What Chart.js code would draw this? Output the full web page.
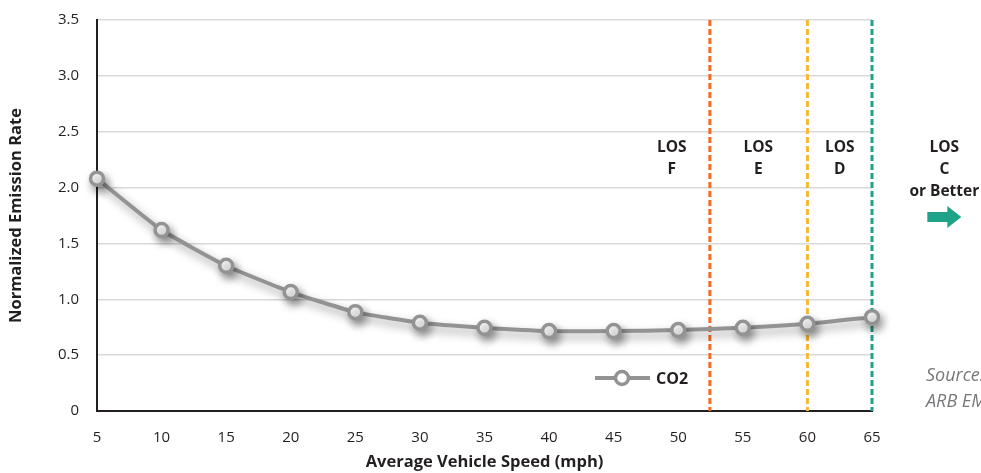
<!DOCTYPE html>
<html>
<head>
<meta charset="utf-8">
<script src="https://cdn.jsdelivr.net/npm/chart.js@4/dist/chart.umd.min.js"></script>
<style>
  html, body { margin: 0; padding: 0; background: #ffffff; }
  #wrap { width: 981px; height: 473px; }
</style>
</head>
<body>
<div id="wrap"><canvas id="emissionChart"></canvas></div>
<script>
// speeds (mph) and CO2 normalized emission rate
const speeds = [5, 10, 15, 20, 25, 30, 35, 40, 45, 50, 55, 60, 65];
const co2Rate = [2.08, 1.62, 1.30, 1.065, 0.885, 0.79, 0.745, 0.715, 0.715, 0.725, 0.745, 0.78, 0.84];

// level of service boundaries
const losBounds = [52.45, 60, 65];
const losColors = ['#f26b21', '#f6b933', '#1fa388'];
// zone labels and the speed they sit over
const losLabels = [['LOS', 'F'], ['LOS', 'E'], ['LOS', 'D'], ['LOS', 'C', 'or Better']];
const losLabelAt = [49.5, 56.2, 62.5, 70.6];

const sourceLines = ['Source: California', 'ARB EMFAC 2014'];

const FONT = "'Open Sans', 'Noto Sans', sans-serif";
const INK = '#231f20';

const losPlugin = {
  id: 'losPlugin',
  beforeDatasetsDraw(chart) {
    const { ctx, chartArea, scales } = chart;
    ctx.save();
    ctx.lineWidth = 3;
    ctx.setLineDash([6, 3]);
    losBounds.forEach((b, i) => {
      const x = scales.x.getPixelForValue(b);
      ctx.strokeStyle = losColors[i];
      ctx.beginPath();
      ctx.moveTo(x, chartArea.top);
      ctx.lineTo(x, chartArea.bottom);
      ctx.stroke();
    });
    ctx.restore();
  },
  afterDraw(chart) {
    const { ctx, chartArea, scales } = chart;
    ctx.save();
    // zone labels
    ctx.fillStyle = INK;
    ctx.font = "bold 15.5px " + FONT;
    ctx.textAlign = 'center';
    ctx.textBaseline = 'middle';
    losLabels.forEach((lines, i) => {
      const x = scales.x.getPixelForValue(losLabelAt[i]);
      lines.forEach((t, j) => ctx.fillText(t, x, 148 + j * 22));
    });
    // arrow under "or Better"
    const ax = scales.x.getPixelForValue(losLabelAt[3]);
    ctx.fillStyle = losColors[2];
    ctx.beginPath();
    ctx.moveTo(ax - 17, 212);
    ctx.lineTo(ax + 3, 212);
    ctx.lineTo(ax + 3, 206);
    ctx.lineTo(ax + 17, 217);
    ctx.lineTo(ax + 3, 228);
    ctx.lineTo(ax + 3, 222);
    ctx.lineTo(ax - 17, 222);
    ctx.closePath();
    ctx.fill();

    // source note
    ctx.fillStyle = '#77787b';
    ctx.font = "italic 18px " + FONT;
    ctx.textAlign = 'left';
    sourceLines.forEach((t, j) => ctx.fillText(t, 926, 376 + j * 26));

    // legend
    const ly = 378, lx = chartArea.left + 498;
    ctx.strokeStyle = '#939393';
    ctx.lineWidth = 4;
    ctx.beginPath();
    ctx.moveTo(lx, ly);
    ctx.lineTo(lx + 55, ly);
    ctx.stroke();
    ctx.fillStyle = '#ffffff';
    ctx.lineWidth = 3.5;
    ctx.beginPath();
    ctx.arc(lx + 27, ly, 6.5, 0, Math.PI * 2);
    ctx.fill();
    ctx.stroke();
    ctx.fillStyle = INK;
    ctx.font = "bold 16px " + FONT;
    ctx.fillText('CO2', lx + 61, ly + 1);
    ctx.restore();
  }
};

const shadowPlugin = {
  id: 'shadowPlugin',
  beforeDatasetDraw(chart) {
    const ctx = chart.ctx;
    ctx.save();
    ctx.shadowColor = 'rgba(0,0,0,0.4)';
    ctx.shadowBlur = 10;
    ctx.shadowOffsetX = 3;
    ctx.shadowOffsetY = 5;
  },
  afterDatasetDraw(chart) {
    chart.ctx.restore();
  }
};

const ctx = document.getElementById('emissionChart').getContext('2d');
new Chart(ctx, {
  type: 'line',
  data: {
    datasets: [{
      label: 'CO2',
      data: speeds.map((s, i) => ({ x: s, y: co2Rate[i] })),
      borderColor: '#939393',
      borderWidth: 4,
      pointRadius: 6.5,
      pointBorderWidth: 3.5,
      pointBackgroundColor: '#ffffff',
      pointBorderColor: '#939393',
      tension: 0.15,
      clip: false
    }]
  },
  options: {
    responsive: true,
    maintainAspectRatio: false,
    animation: false,
    layout: { padding: { left: 0, right: 109, top: 20, bottom: 0 } },
    plugins: {
      legend: { display: false },
      tooltip: { enabled: false }
    },
    scales: {
      x: {
        type: 'linear',
        min: 5,
        max: 65,
        ticks: { stepSize: 5, color: INK, font: { family: FONT, size: 15 }, padding: 10 },
        grid: { display: false },
        border: { display: true, color: INK, width: 2 },
        title: {
          display: true,
          text: 'Average Vehicle Speed (mph)',
          color: INK,
          font: { family: FONT, size: 16.5, weight: 'bold' },
          padding: { top: 2, bottom: 1 }
        },
        afterFit(scale) { scale.height = 62; }
      },
      y: {
        min: 0,
        max: 3.5,
        ticks: {
          stepSize: 0.5,
          color: INK,
          font: { family: FONT, size: 15 },
          padding: 18,
          callback: v => v === 0 ? '0' : v.toFixed(1)
        },
        grid: { color: '#d9d9d9', lineWidth: 1.5, drawTicks: false },
        border: { display: true, color: INK, width: 2 },
        title: {
          display: true,
          text: 'Normalized Emission Rate',
          color: INK,
          font: { family: FONT, size: 16.5, weight: 'bold' },
          padding: { top: 6, bottom: 4 }
        },
        afterFit(scale) {
          scale.width = 97;
          scale.paddingTop = 0;
          scale.paddingBottom = 0;
        }
      }
    }
  },
  plugins: [losPlugin, shadowPlugin]
});
</script>
</body>
</html>
